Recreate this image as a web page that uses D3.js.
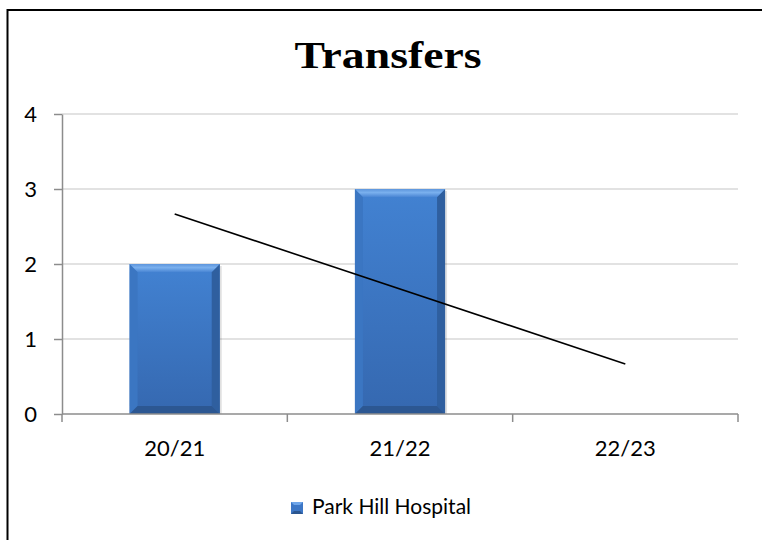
<!DOCTYPE html>
<html>
<head>
<meta charset="utf-8">
<script src="https://cdn.jsdelivr.net/npm/d3@7"></script>
<style>
  body { margin: 0; background: #fff; }
  svg { display: block; }
</style>
</head>
<body>
<svg></svg>
<script>
const width = 762;
const height = 540;

// chart data
const seasons = ['20/21', '21/22', '22/23'];
const transfers = [2, 3, 0];
const yTicks = [0, 1, 2, 3, 4];
const seriesName = 'Park Hill Hospital';
const title = 'Transfers';

const margin = {left: 62, right: 24, top: 114, bottom: 126};

const svg = d3.select('svg')
    .attr('width', width)
    .attr('height', height);

// outer frame (clipped on the right and bottom like the source)
svg.append('rect')
    .attr('x', 7.5).attr('y', 10)
    .attr('width', width + 20).attr('height', height + 20)
    .attr('fill', '#fff')
    .attr('stroke', '#000')
    .attr('stroke-width', 2);

const x = d3.scaleBand()
    .domain(seasons)
    .range([margin.left, width - margin.right])
    .paddingInner(0.6)
    .paddingOuter(0.3);

const y = d3.scaleLinear()
    .domain([0, 4])
    .range([height - margin.bottom, margin.top]);

// band edges for x ticks (category boundaries)
const step = (width - margin.right - margin.left) / seasons.length;
const bounds = d3.range(seasons.length + 1).map(i => margin.left + i * step);

// gridlines
svg.append('g')
    .selectAll('line')
    .data(yTicks.filter(d => d > 0))
    .join('line')
      .attr('x1', margin.left).attr('x2', width - margin.right)
      .attr('y1', d => y(d)).attr('y2', d => y(d))
      .attr('stroke', '#d9d9d9')
      .attr('stroke-width', 1.5);

// y axis
const yAxis = svg.append('g')
    .attr('transform', `translate(${margin.left},0)`)
    .call(d3.axisLeft(y).tickValues(yTicks).tickFormat(d3.format('d'))
      .tickSize(8).tickPadding(17).tickSizeOuter(0));
yAxis.select('.domain').attr('stroke', '#8c8c8c').attr('stroke-width', 1.5);
yAxis.selectAll('.tick line').attr('stroke', '#8c8c8c').attr('stroke-width', 1.5);
yAxis.selectAll('.tick text')
    .attr('fill', '#000')
    .style('font-family', 'Lato, "Open Sans", sans-serif')
    .style('font-size', '22px');

// bars with bevel look
const defs = svg.append('defs');
const grad = defs.append('linearGradient')
    .attr('id', 'barBody')
    .attr('x1', 0).attr('y1', 0).attr('x2', 0).attr('y2', 1);
grad.append('stop').attr('offset', '0%').attr('stop-color', '#4282d2');
grad.append('stop').attr('offset', '100%').attr('stop-color', '#3568b0');

const topGrad = defs.append('linearGradient')
    .attr('id', 'bevelTop')
    .attr('x1', 0).attr('y1', 0).attr('x2', 0).attr('y2', 1);
topGrad.append('stop').attr('offset', '0%').attr('stop-color', '#5d95dc');
topGrad.append('stop').attr('offset', '45%').attr('stop-color', '#7ab0ee');
topGrad.append('stop').attr('offset', '100%').attr('stop-color', '#4a86d4');

const bev = 8;
const bars = svg.append('g')
    .selectAll('g')
    .data(seasons.map((s, i) => ({season: s, value: transfers[i]})).filter(d => d.value > 0))
    .join('g');

// soft shadow
bars.append('rect')
    .attr('x', d => x(d.season) + 2)
    .attr('y', d => y(d.value) + 2)
    .attr('width', x.bandwidth())
    .attr('height', d => y(0) - y(d.value) - 2)
    .attr('fill', '#000')
    .attr('opacity', 0.12);

bars.append('rect')
    .attr('x', d => x(d.season))
    .attr('y', d => y(d.value))
    .attr('width', x.bandwidth())
    .attr('height', d => y(0) - y(d.value))
    .attr('fill', 'url(#barBody)');

function bevelPoly(d, side) {
  const x0 = x(d.season), x1 = x0 + x.bandwidth();
  const y0 = y(d.value), y1 = y(0);
  if (side === 'top') return [[x0, y0], [x1, y0], [x1 - bev, y0 + bev], [x0 + bev, y0 + bev]];
  if (side === 'left') return [[x0, y0], [x0 + bev, y0 + bev], [x0 + bev, y1 - bev], [x0, y1]];
  if (side === 'right') return [[x1, y0], [x1 - bev, y0 + bev], [x1 - bev, y1 - bev], [x1, y1]];
  return [[x0, y1], [x0 + bev, y1 - bev], [x1 - bev, y1 - bev], [x1, y1]];
}
const bevelColors = {top: 'url(#bevelTop)', left: '#3b76c2', right: '#2f5f9f', bottom: '#2c5792'};
['left', 'right', 'bottom', 'top'].forEach(side => {
  bars.append('path')
      .attr('d', d => 'M' + bevelPoly(d, side).join('L') + 'Z')
      .attr('fill', bevelColors[side]);
});

// x axis
const xAxisY = y(0);
svg.append('line')
    .attr('x1', margin.left).attr('x2', width - margin.right)
    .attr('y1', xAxisY).attr('y2', xAxisY)
    .attr('stroke', '#8c8c8c').attr('stroke-width', 1.5);
svg.append('g')
    .selectAll('line')
    .data(bounds)
    .join('line')
      .attr('x1', d => d).attr('x2', d => d)
      .attr('y1', xAxisY).attr('y2', xAxisY + 8)
      .attr('stroke', '#8c8c8c').attr('stroke-width', 1.5);
svg.append('g')
    .selectAll('text')
    .data(seasons)
    .join('text')
      .attr('x', d => x(d) + x.bandwidth() / 2)
      .attr('y', 456)
      .attr('text-anchor', 'middle')
      .style('font-family', 'Lato, "Open Sans", sans-serif')
      .style('font-size', '22px')
      .text(d => d);

// linear trendline
const n = transfers.length;
const xs = d3.range(1, n + 1);
const mx = d3.mean(xs), my = d3.mean(transfers);
const slope = d3.sum(xs, (v, i) => (v - mx) * (transfers[i] - my)) / d3.sum(xs, v => (v - mx) ** 2);
const intercept = my - slope * mx;
const trend = seasons.map((s, i) => [x(s) + x.bandwidth() / 2, y(intercept + slope * xs[i])]);
svg.append('path')
    .attr('d', d3.line()([trend[0], trend[n - 1]]))
    .attr('stroke', '#000')
    .attr('stroke-width', 1.6)
    .attr('fill', 'none');

// title
svg.append('text')
    .attr('x', 388)
    .attr('y', 68)
    .attr('text-anchor', 'middle')
    .attr('textLength', 187)
    .attr('lengthAdjust', 'spacingAndGlyphs')
    .style('font-family', '"Liberation Serif", "DejaVu Serif", serif')
    .style('font-weight', 'bold')
    .style('font-size', '38px')
    .text(title);

// legend
const legend = svg.append('g').attr('transform', 'translate(291,502)');
legend.append('rect').attr('width', 12).attr('height', 12).attr('fill', '#3d77c6');
legend.append('path').attr('d', 'M0,0L12,0L9,3L3,3Z').attr('fill', '#6fa6ea');
legend.append('path').attr('d', 'M0,12L12,12L9,9L3,9Z').attr('fill', '#2b5690');
legend.append('text')
    .attr('x', 21)
    .attr('y', 12)
    .style('font-family', 'Lato, "Open Sans", sans-serif')
    .style('font-size', '21px')
    .text(seriesName);
</script>
</body>
</html>
